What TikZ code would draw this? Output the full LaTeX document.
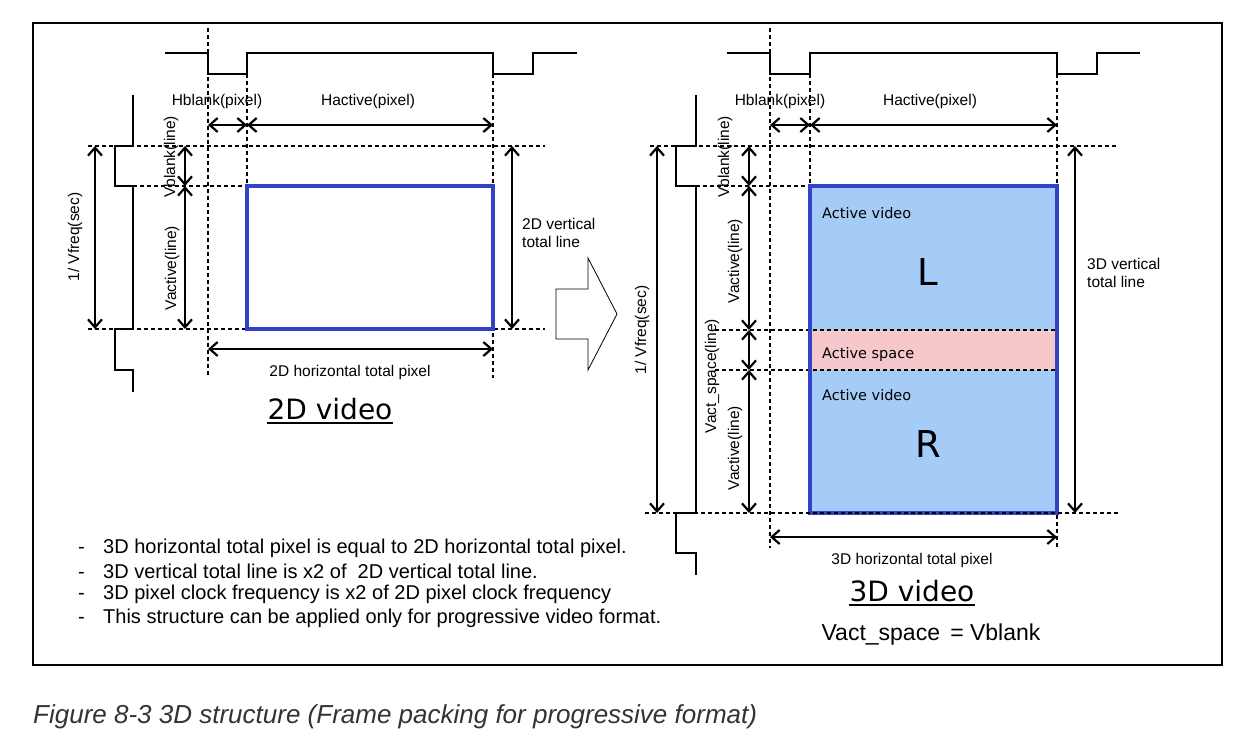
\documentclass[tikz,border=0pt]{standalone}
\usepackage{fontspec}
\setmainfont{Liberation Sans}
\newfontfamily\tahoma{DejaVu Sans}
\usetikzlibrary{arrows.meta,positioning,calc}
\definecolor{rectblue}{HTML}{3343C9}
\definecolor{videoblue}{HTML}{A4CCF7}
\definecolor{spacepink}{HTML}{F6C8CB}
\definecolor{captiongray}{HTML}{333333}
\tikzset{
wave/.style={line width=2.8pt,line join=miter},
guide/.style={line width=1.3pt,dash pattern=on 4pt off 3pt},
dimline/.style={{Straight Barb[length=8pt,width=14pt]}-{Straight Barb[length=8pt,width=14pt]},line width=2.2pt},
lbl/.style={font=\fontsize{15.5}{18}\selectfont,inner sep=0pt},
vlbl/.style={lbl,rotate=90},
note/.style={font=\fontsize{20}{23}\selectfont,inner sep=0pt,anchor=west},
title/.style={font=\tahoma\fontsize{28}{32}\selectfont,inner sep=0pt},
areatext/.style={font=\tahoma\fontsize{14.5}{17}\selectfont,inner sep=0pt,anchor=west},
eye/.style={font=\tahoma\fontsize{37}{40}\selectfont,inner sep=0pt},
videoframe/.style={draw=rectblue,line width=4pt},
underbar/.style={line width=1.6pt}}
\begin{document}
\begin{tikzpicture}[x=1pt,y=-1pt]
\useasboundingbox (0,0) rectangle (1260,750);
\fill[white] (0,0) rectangle (1260,750);
\draw[line width=1.5pt] (33,23) rectangle (1222,665);
% 2D video
\draw[wave] (165,53) -| (208,74) -| (247,53) -| (493,74) -| (533,53) -- (577,53);
\draw[wave] (133,95) |- (115,146) |- (133,186) |- (115,329) |- (133,370) -- (133,392);
\draw[guide] (208,28) -- (208,378);
\draw[guide] (247,74) -- (247,186);
\draw[guide] (493,74) -- (493,378);
\draw[guide] (88,146) -- (545,146);
\draw[guide] (133,186) -- (247,186);
\draw[guide] (88,329) -- (545,329);
\draw[videoframe] (247,186) rectangle (493,329);
\coordinate (hbA) at (208,125);
\coordinate (hbB) at (247,125);
\coordinate (hbC) at (493,125);
\coordinate (vfA) at (95,146);
\coordinate (vfB) at (95,329);
\coordinate (vbA) at (185,146);
\coordinate (vbB) at (185,186);
\coordinate (vbC) at (185,329);
\coordinate (vtA) at (512,146);
\coordinate (vtB) at (512,329);
\coordinate (htA) at (208,349);
\coordinate (htB) at (493,349);
\draw[dimline] (hbA) -- (hbB);
\draw[dimline] (hbB) -- (hbC);
\draw[dimline] (vfA) -- (vfB);
\draw[dimline] (vbA) -- (vbB);
\draw[dimline] (vbB) -- (vbC);
\draw[dimline] (vtA) -- (vtB);
\draw[dimline] (htA) -- (htB);
\node[lbl] (hblank2d) at (217,101) {Hblank(pixel)};
\node[lbl] (hactive2d) at (368,101) {Hactive(pixel)};
\node[vlbl] (vfreq2d) at (75,237) {1/ Vfreq(sec)};
\node[vlbl] (vblank2d) at (171,157) {Vblank(line)};
\node[vlbl] (vactive2d) at (172,268) {Vactive(line)};
\node[lbl,align=left,anchor=north west] (vtotal2d) at (522,218) {2D vertical\\total line};
\node[lbl] (htotal2d) at (350,372) {2D horizontal total pixel};
\node[title] (title2d) at (330,409) {2D video};
\draw[underbar] ([yshift=-3pt]title2d.south west) -- ([yshift=-3pt]title2d.south east);
% conversion arrow
\draw[line width=.8pt] (556,289) -- (588,289) -- (588,258) -- (617,314) -- (588,370) -- (588,339) -- (556,339) -- cycle;
% 3D video
\fill[videoblue] (810,186) rectangle (1057,513);
\fill[spacepink] (810,330) rectangle (1057,370);
\draw[wave] (727,53) -| (770,74) -| (810,53) -| (1057,74) -| (1097,53) -- (1140,53);
\draw[wave] (696,95) |- (676,146) |- (696,186) |- (676,513) |- (696,553) -- (696,575);
\draw[guide] (770,28) -- (770,548);
\draw[guide] (810,74) -- (810,186);
\draw[guide] (1057,74) -- (1057,548);
\draw[guide] (650,146) -- (1118,146);
\draw[guide] (696,186) -- (810,186);
\draw[guide] (715,330) -- (1057,330);
\draw[guide] (715,370) -- (1057,370);
\draw[videoframe] (810,186) rectangle (1057,513);
\draw[guide] (645,513) -- (1118,513);
\coordinate (hbD) at (770,125);
\coordinate (hbE) at (810,125);
\coordinate (hbF) at (1057,125);
\coordinate (vfC) at (657,146);
\coordinate (vfD) at (657,513);
\coordinate (vbD) at (749,146);
\coordinate (vbE) at (749,186);
\coordinate (vbF) at (749,330);
\coordinate (vbG) at (749,370);
\coordinate (vbH) at (749,513);
\coordinate (vtC) at (1075,146);
\coordinate (vtD) at (1075,513);
\coordinate (htC) at (770,537);
\coordinate (htD) at (1057,537);
\draw[dimline] (hbD) -- (hbE);
\draw[dimline] (hbE) -- (hbF);
\draw[dimline] (vfC) -- (vfD);
\draw[dimline] (vbD) -- (vbE);
\draw[dimline] (vbE) -- (vbF);
\draw[dimline] (vbF) -- (vbG);
\draw[dimline] (vbG) -- (vbH);
\draw[dimline] (vtC) -- (vtD);
\draw[dimline] (htC) -- (htD);
\node[lbl] (hblank3d) at (780,101) {Hblank(pixel)};
\node[lbl] (hactive3d) at (930,101) {Hactive(pixel)};
\node[vlbl] (vfreq3d) at (642,330) {1/ Vfreq(sec)};
\node[vlbl] (vblank3d) at (725,157) {Vblank(line)};
\node[vlbl] (vactiveL) at (735,261) {Vactive(line)};
\node[vlbl] (vspace3d) at (712,376) {Vact\_space(line)};
\node[vlbl] (vactiveR) at (735,448) {Vactive(line)};
\node[lbl,align=left,anchor=north west] (vtotal3d) at (1087,258) {3D vertical\\total line};
\node[lbl] (htotal3d) at (912,560) {3D horizontal total pixel};
\node[areatext] (videoL) at (822,213) {Active video};
\node[eye] (eyeL) at (928,272) {L};
\node[areatext] (space3d) at (822,354) {Active space};
\node[areatext] (videoR) at (822,395) {Active video};
\node[eye] (eyeR) at (928,444) {R};
\node[title] (title3d) at (912,591) {3D video};
\draw[underbar] ([yshift=-3pt]title3d.south west) -- ([yshift=-3pt]title3d.south east);
\node[font=\fontsize{23}{26}\selectfont,inner sep=0pt] (equal3d) at (931,635) {Vact\_space \,= Vblank};
% notes
\node[note] (note1) at (78,548) {\makebox[25pt][l]{-}3D horizontal total pixel is equal to 2D horizontal total pixel.};
\node[note] (note2) at (78,571) {\makebox[25pt][l]{-}3D vertical total line is x2 of \ 2D vertical total line.};
\node[note] (note3) at (78,594) {\makebox[25pt][l]{-}3D pixel clock frequency is x2 of 2D pixel clock frequency};
\node[note] (note4) at (78,618) {\makebox[25pt][l]{-}This structure can be applied only for progressive video format.};
\node[anchor=west,inner sep=0pt,text=captiongray,font=\itshape\fontsize{26}{30}\selectfont] (caption) at (33,717) {Figure 8-3 3D structure (Frame packing for progressive format)};
\end{tikzpicture}
\end{document}
